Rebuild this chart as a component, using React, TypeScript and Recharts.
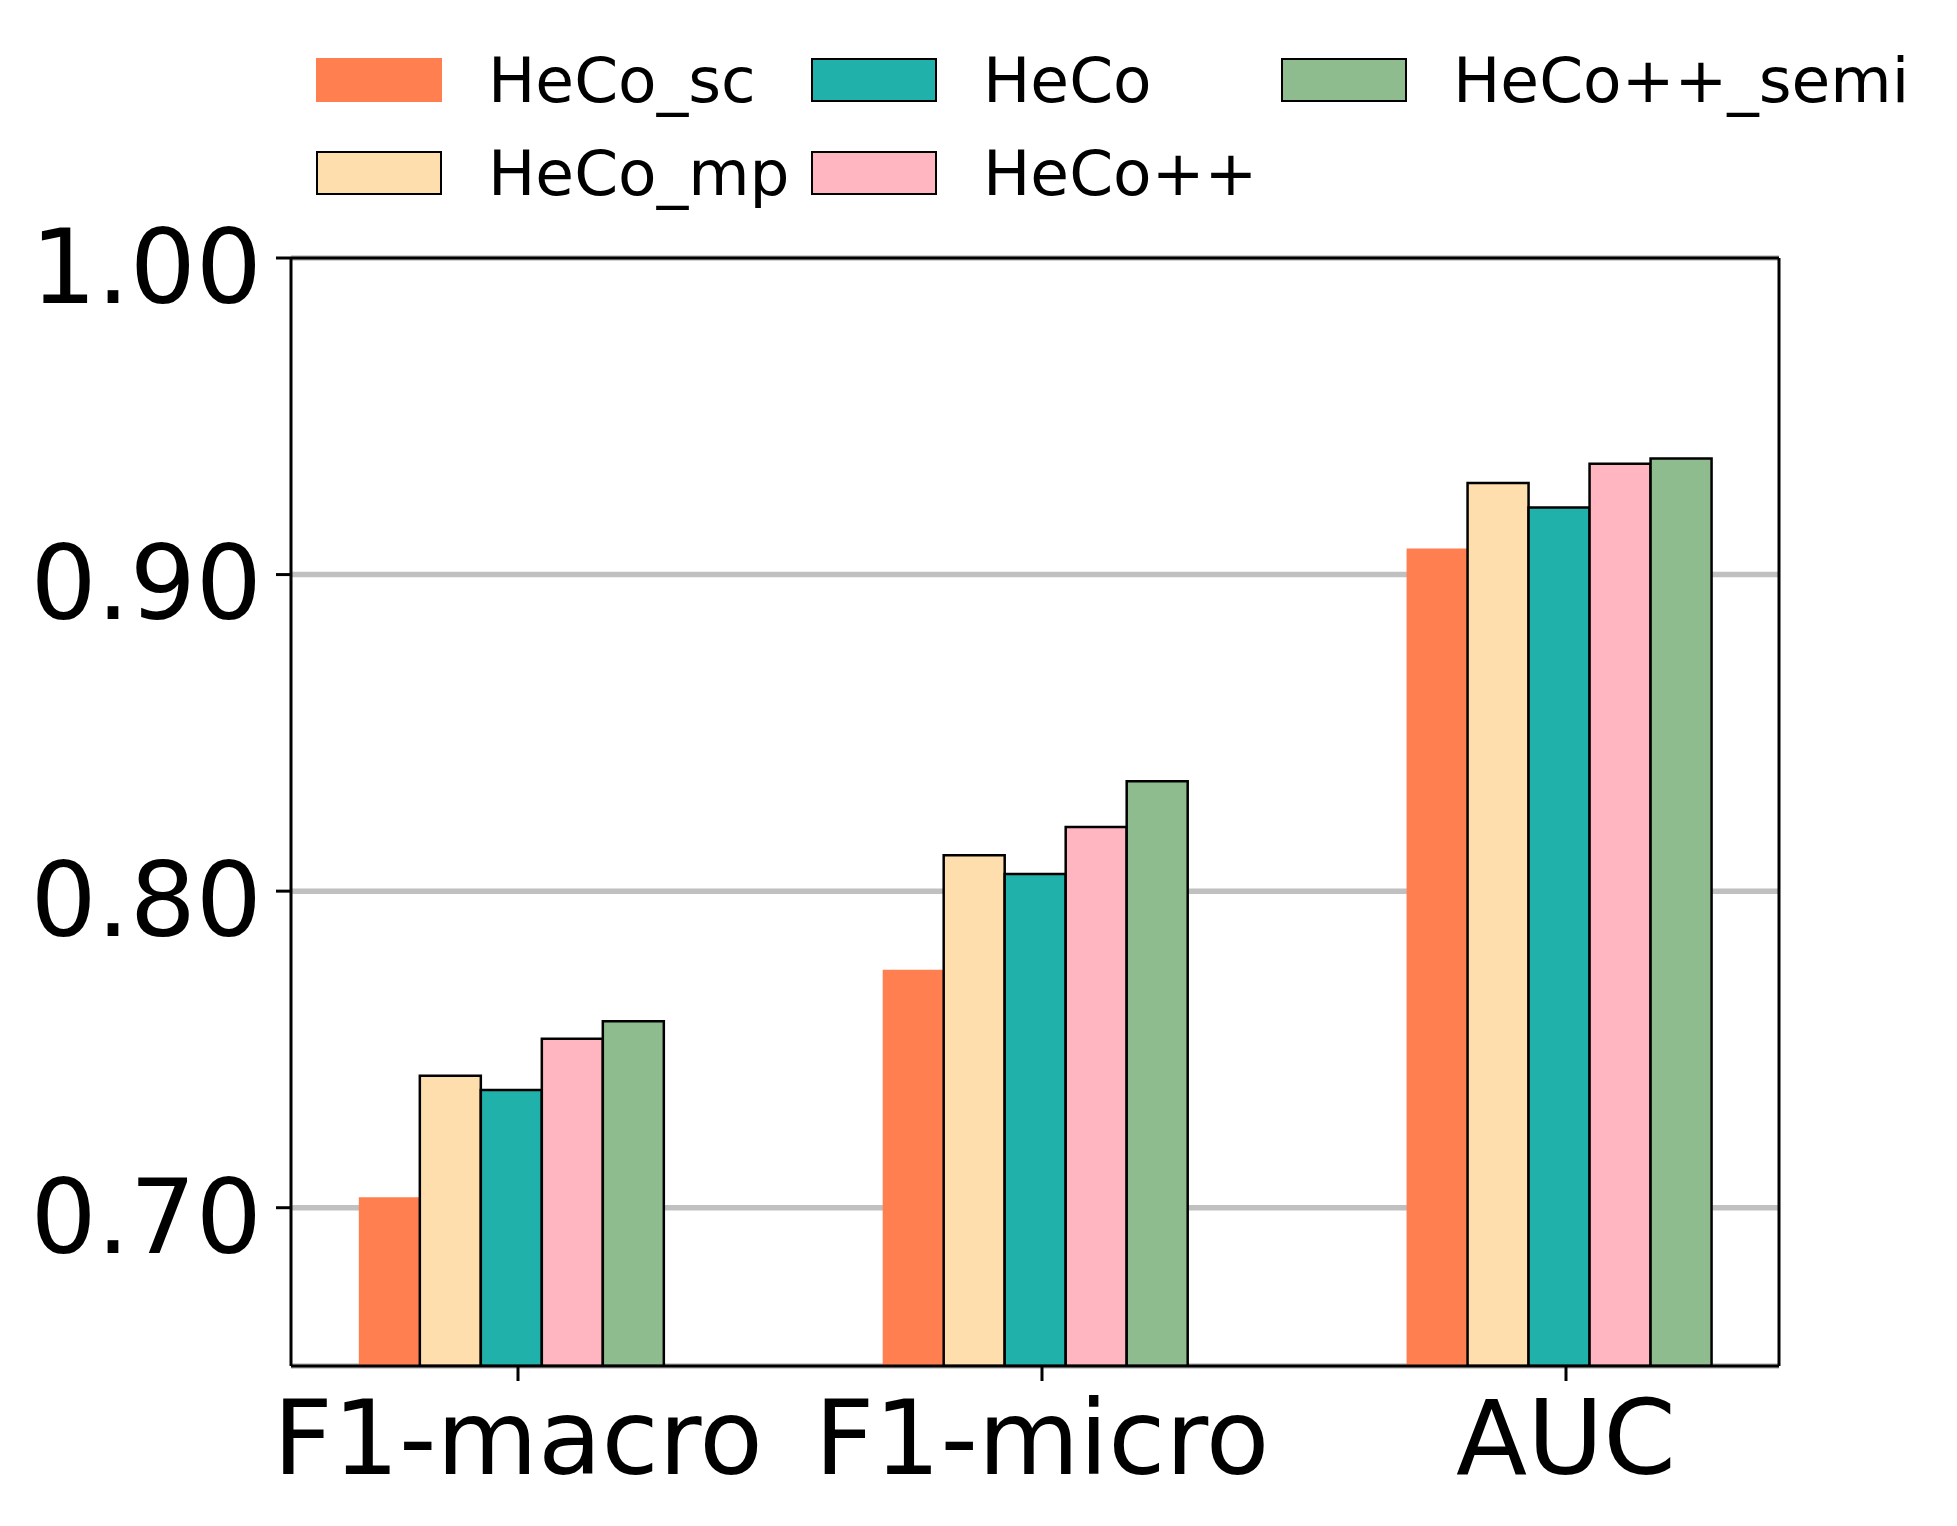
import {
  BarChart,
  Bar,
  XAxis,
  YAxis,
  CartesianGrid,
  Legend,
  ReferenceLine,
} from "recharts";

const categories = ["F1-macro", "F1-micro", "AUC"];

const hecoSc = [0.7033, 0.7752, 0.9082];
const hecoMp = [0.7417, 0.8113, 0.9289];
const heco = [0.7372, 0.8054, 0.9212];
const hecoPlus = [0.7534, 0.8203, 0.935];
const hecoSemi = [0.7589, 0.8347, 0.9367];

const yTicks = [0.7, 0.8, 0.9, 1.0];

const series = [
  { key: "sc", name: "HeCo_sc", color: "#FF7F50", edge: false, values: hecoSc },
  { key: "mp", name: "HeCo_mp", color: "#FFDEAD", edge: true, values: hecoMp },
  { key: "heco", name: "HeCo", color: "#20B2AA", edge: true, values: heco },
  { key: "pp", name: "HeCo++", color: "#FFB6C1", edge: true, values: hecoPlus },
  { key: "semi", name: "HeCo++_semi", color: "#8FBC8F", edge: true, values: hecoSemi },
];

const data = categories.map((name, i) => {
  const row: Record<string, number | string> = { x: i, name };
  series.forEach((s) => {
    row[s.key] = s.values[i];
  });
  return row;
});

// matplotlib-style legend: ncol=3, filled column by column
const legendCols = [316, 811, 1281];
const legendRows = [80, 173];

const font = "'DejaVu Sans', sans-serif";

const renderLegend = () => (
  <div style={{ position: "relative", width: 1957, height: 240 }}>
    {series.map((s, i) => {
      const left = legendCols[Math.floor(i / 2)];
      const cy = legendRows[i % 2];
      return (
        <div
          key={s.key}
          style={{
            position: "absolute",
            left,
            top: cy - 22,
            height: 44,
            display: "flex",
            alignItems: "center",
            whiteSpace: "nowrap",
          }}
        >
          <div
            style={{
              width: 126,
              height: 44,
              boxSizing: "border-box",
              background: s.color,
              border: s.edge ? "2.5px solid #000" : "none",
            }}
          />
          <span
            style={{
              marginLeft: 46,
              fontFamily: font,
              fontSize: 63,
              color: "#000",
              lineHeight: 1,
            }}
          >
            {s.name}
          </span>
        </div>
      );
    })}
  </div>
);

const App = () => {
  return (
    <div style={{ position: "absolute", left: 0, top: 0, background: "#fff" }}>
      <BarChart
        width={1957}
        height={1526}
        data={data}
        barGap={0}
        margin={{ top: 258, right: 178, left: 0, bottom: 0 }}
      >
        <CartesianGrid
          vertical={false}
          stroke="#c0c0c0"
          strokeWidth={5.5}
          yAxisId="y"
          xAxisId="bars"
        />
        <XAxis
          xAxisId="bars"
          dataKey="x"
          type="number"
          domain={[-0.4214, 2.419]}
          tickCount={3}
          allowDataOverflow
          height={0}
          hide
        />
        <XAxis
          xAxisId="ticks"
          dataKey="x"
          type="number"
          domain={[-0.4332, 2.4065]}
          ticks={[0, 1, 2]}
          allowDataOverflow
          height={160}
          tickFormatter={(v: number) => categories[v]}
          axisLine={{ stroke: "#000", strokeWidth: 3 }}
          tickLine={{ stroke: "#000", strokeWidth: 3 }}
          tickSize={15}
          tickMargin={19}
          tick={{ fontSize: 104, fill: "#000", fontFamily: font }}
        />
        <YAxis
          yAxisId="y"
          domain={[0.65, 1.0]}
          ticks={yTicks}
          allowDataOverflow
          width={291}
          tickFormatter={(v: number) => v.toFixed(2)}
          axisLine={{ stroke: "#000", strokeWidth: 3 }}
          tickLine={{ stroke: "#000", strokeWidth: 3 }}
          tickSize={15}
          tickMargin={14}
          tick={{ fontSize: 104, fill: "#000", fontFamily: font, dy: 8 }}
        />
        <Legend
          content={renderLegend}
          layout="horizontal"
          verticalAlign="middle"
          align="center"
          wrapperStyle={{ position: "absolute", left: 0, top: 0, width: 1957, height: 240 }}
        />
        {series.map((s) => (
          <Bar
            key={s.key}
            dataKey={s.key}
            name={s.name}
            xAxisId="bars"
            yAxisId="y"
            barSize={61}
            fill={s.color}
            stroke={s.edge ? "#000" : "none"}
            strokeWidth={2.5}
            isAnimationActive={false}
          />
        ))}
        <ReferenceLine yAxisId="y" xAxisId="bars" y={1.0} stroke="#000" strokeWidth={3} />
        <ReferenceLine yAxisId="y" xAxisId="bars" x={2.419} stroke="#000" strokeWidth={3} />
      </BarChart>
    </div>
  );
};

export default App;
